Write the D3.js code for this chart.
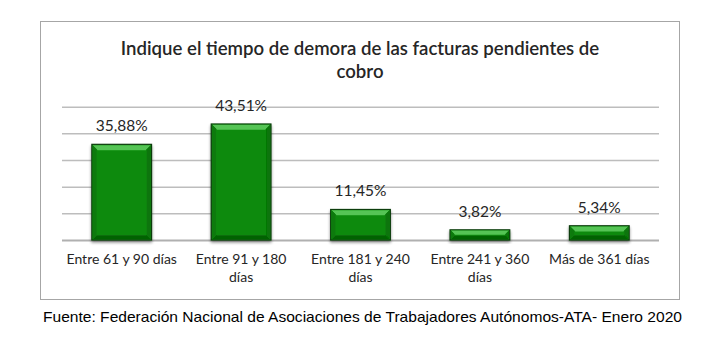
<!DOCTYPE html>
<html><head><meta charset="utf-8">
<script src="https://cdn.jsdelivr.net/npm/d3@7"></script>
<style>html,body{margin:0;padding:0;background:#fff;}svg{display:block;}</style>
</head><body>
<svg id="chart" width="722" height="343"></svg>
<script>
const categories = ["Entre 61 y 90 días", "Entre 91 y 180 días", "Entre 181 y 240 días", "Entre 241 y 360 días", "Más de 361 días"];
const values = [35.88, 43.51, 11.45, 3.82, 5.34];
const valueLabels = ["35,88%", "43,51%", "11,45%", "3,82%", "5,34%"];
const yTicks = [0, 10, 20, 30, 40, 50];
const titleLines = ["Indique el tiempo de demora de las facturas pendientes de", "cobro"];
const sourceText = "Fuente: Federación Nacional de Asociaciones de Trabajadores Autónomos-ATA- Enero 2020";

const svg = d3.select("#chart");
const font = "Lato, 'Open Sans', sans-serif";

// defs
const defs = svg.append("defs");
const sh = defs.append("filter").attr("id","shadow").attr("x","-20%").attr("y","-20%").attr("width","140%").attr("height","150%");
sh.append("feGaussianBlur").attr("in","SourceAlpha").attr("stdDeviation",1.6);
sh.append("feOffset").attr("dx",0).attr("dy",2).attr("result","ob");
sh.append("feComponentTransfer").append("feFuncA").attr("type","linear").attr("slope",0.45);
const mg = sh.append("feMerge"); mg.append("feMergeNode"); mg.append("feMergeNode").attr("in","SourceGraphic");

// outer box
svg.append("rect").attr("x",40.5).attr("y",21.5).attr("width",639).attr("height",278)
  .attr("fill","#fff").attr("stroke","#a6a6a6").attr("stroke-width",1);

// title
svg.append("g").selectAll("text").data(titleLines).join("text")
  .attr("x",360).attr("y",(d,i)=>55+i*23)
  .attr("text-anchor","middle").attr("font-family",font).attr("font-size",18.6).attr("font-weight",600)
  .attr("fill","#262626").text(d=>d);

// scales
const x = d3.scaleBand().domain(categories).range([62,659]).paddingInner(0.5).paddingOuter(0.25);
const y = d3.scaleLinear().domain([0,50]).range([240,106.7]);

// gridlines via axis
const yAxis = d3.axisLeft(y).tickValues(yTicks).tickSize(-(659-62)).tickFormat("");
const gy = svg.append("g").attr("transform","translate(62,0)").call(yAxis);
gy.select(".domain").remove();
gy.selectAll(".tick line").attr("stroke","#bdbdbd").attr("stroke-width",1.5);
gy.selectAll(".tick").filter(d=>d===0).select("line").attr("stroke","#b0b0b0").attr("stroke-width",2);

// bars
const bars = svg.append("g").selectAll("g").data(values).join("g").attr("filter","url(#shadow)");
bars.append("rect")
  .attr("x",(d,i)=>x(categories[i])).attr("y",d=>y(d))
  .attr("width",x.bandwidth()).attr("height",d=>y(0)-y(d))
  .attr("fill","#0c8a0c").attr("stroke","#0b3d0b").attr("stroke-width",1.2);
// bevel top
bars.append("path").attr("d",(d,i)=>{
  const x0=x(categories[i])+0.8, x1=x0+x.bandwidth()-1.6, t=y(d)+0.8, b=Math.min(5, (y(0)-y(d))/2.5);
  return `M${x0},${t}L${x1},${t}L${x1-b},${t+b}L${x0+b},${t+b}Z`;
}).attr("fill","#55c455");
// bevel bottom
bars.append("path").attr("d",(d,i)=>{
  const x0=x(categories[i])+0.8, x1=x0+x.bandwidth()-1.6, bt=y(0)-0.8, b=Math.min(4, (y(0)-y(d))/3);
  return `M${x0},${bt}L${x1},${bt}L${x1-b},${bt-b}L${x0+b},${bt-b}Z`;
}).attr("fill","#066306");
// side bevels
bars.append("path").attr("d",(d,i)=>{
  const x0=x(categories[i])+0.8, t=y(d)+0.8, bt=y(0)-0.8, b=Math.min(4, (y(0)-y(d))/3);
  return `M${x0},${t}L${x0+b},${t+b}L${x0+b},${bt-b}L${x0},${bt}Z`;
}).attr("fill","#0a7a0a");
bars.append("path").attr("d",(d,i)=>{
  const x1=x(categories[i])+x.bandwidth()-0.8, t=y(d)+0.8, bt=y(0)-0.8, b=Math.min(4, (y(0)-y(d))/3);
  return `M${x1},${t}L${x1-b},${t+b}L${x1-b},${bt-b}L${x1},${bt}Z`;
}).attr("fill","#077407");

// value labels
svg.append("g").selectAll("text").data(values).join("text")
  .attr("x",(d,i)=>x(categories[i])+x.bandwidth()/2).attr("y",d=>y(d)-13)
  .attr("text-anchor","middle").attr("font-family",font).attr("font-size",15.5)
  .attr("fill","#262626").text((d,i)=>valueLabels[i]);

// x axis labels with wrap
const xAxis = d3.axisBottom(x).tickSize(0).tickPadding(0);
const gx = svg.append("g").attr("transform","translate(0,251)").call(xAxis);
gx.select(".domain").remove();
gx.selectAll(".tick text").attr("font-family",font).attr("font-size",14).attr("fill","#262626")
  .each(function(d){
    const t=d3.select(this); const words=d.split(" "); t.text(null);
    let line=[], lineNo=0;
    let ts=t.append("tspan").attr("x",0).attr("y",0).attr("dy","0.93em");
    for(const w of words){
      line.push(w); ts.text(line.join(" "));
      if(ts.node().getComputedTextLength()>115.5 && line.length>1){
        line.pop(); ts.text(line.join(" ")); line=[w]; lineNo++;
        ts=t.append("tspan").attr("x",0).attr("y",lineNo*17.5).attr("dy","0.93em").text(w);
      }
    }
  });

// source
svg.append("text").attr("x",43).attr("y",322).attr("font-family","'Liberation Sans', Arial, sans-serif")
  .attr("font-size",15).attr("fill","#000").attr("textLength",639).attr("lengthAdjust","spacingAndGlyphs")
  .text(sourceText);
</script>
</body></html>
